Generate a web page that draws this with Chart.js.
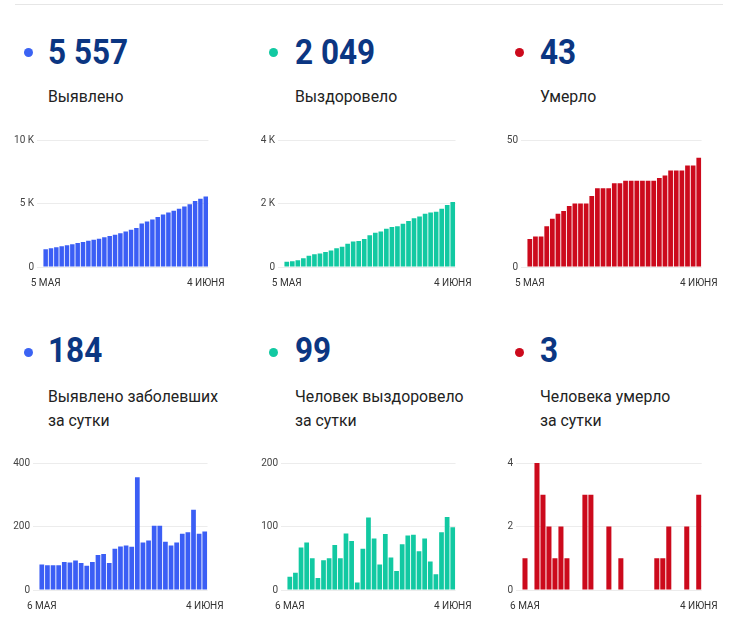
<!DOCTYPE html>
<html>
<head>
<meta charset="utf-8">
<script src="https://cdn.jsdelivr.net/npm/chart.js@4.4.1/dist/chart.umd.min.js"></script>
<style>
    body { margin: 0; background: #fff; font-family: Roboto, sans-serif; }
    #page { position: relative; width: 750px; height: 623px; overflow: hidden; }
    .topline { position: absolute; left: 15px; top: 4px; width: 708px; height: 1px; background: #e6e6e6; }
    .dot { position: absolute; width: 9px; height: 9px; border-radius: 50%; }
    .num { position: absolute; font-size: 35px; line-height: 35px; font-weight: 700; color: #0b3682;
           transform: scaleX(0.9); transform-origin: left top; white-space: nowrap; }
    .lbl { position: absolute; font-size: 17px; line-height: 24px; color: #222;
           transform: scaleX(0.93); transform-origin: left top; white-space: nowrap; }
    canvas { position: absolute; }
</style>
</head>
<body>
<div id="page">
    <div class="topline"></div>

    <div class="dot" style="left:24px;top:48px;background:#3b63f3"></div>
    <div class="num" style="left:48px;top:35px">5 557</div>
    <div class="lbl" style="left:48px;top:84px">Выявлено</div>

    <div class="dot" style="left:269px;top:48px;background:#12c9a2"></div>
    <div class="num" style="left:295px;top:35px">2 049</div>
    <div class="lbl" style="left:295px;top:84px">Выздоровело</div>

    <div class="dot" style="left:515px;top:48px;background:#cc0a1c"></div>
    <div class="num" style="left:540px;top:35px">43</div>
    <div class="lbl" style="left:540px;top:84px">Умерло</div>

    <div class="dot" style="left:24px;top:348px;background:#3b63f3"></div>
    <div class="num" style="left:48px;top:333px">184</div>
    <div class="lbl" style="left:48px;top:384px">Выявлено заболевших<br>за сутки</div>

    <div class="dot" style="left:269px;top:348px;background:#12c9a2"></div>
    <div class="num" style="left:295px;top:333px">99</div>
    <div class="lbl" style="left:295px;top:384px">Человек выздоровело<br>за сутки</div>

    <div class="dot" style="left:515px;top:348px;background:#cc0a1c"></div>
    <div class="num" style="left:540px;top:333px">3</div>
    <div class="lbl" style="left:540px;top:384px">Человека умерло<br>за сутки</div>

    <canvas id="totalCases"></canvas>
    <canvas id="totalRecovered"></canvas>
    <canvas id="totalDeaths"></canvas>
    <canvas id="dailyCases"></canvas>
    <canvas id="dailyRecovered"></canvas>
    <canvas id="dailyDeaths"></canvas>
</div>

<script>
// dates, 5 May .. 4 June
var days = ['5 МАЯ', '6 МАЯ', '7 МАЯ', '8 МАЯ', '9 МАЯ', '10 МАЯ', '11 МАЯ', '12 МАЯ', '13 МАЯ', '14 МАЯ',
    '15 МАЯ', '16 МАЯ', '17 МАЯ', '18 МАЯ', '19 МАЯ', '20 МАЯ', '21 МАЯ', '22 МАЯ', '23 МАЯ', '24 МАЯ',
    '25 МАЯ', '26 МАЯ', '27 МАЯ', '28 МАЯ', '29 МАЯ', '30 МАЯ', '31 МАЯ', '1 ИЮНЯ', '2 ИЮНЯ', '3 ИЮНЯ', '4 ИЮНЯ'];
var dailyDays = days.slice(1);

// cumulative totals
var totalCases = [1395, 1475, 1553, 1631, 1709, 1797, 1884, 1977, 2062, 2138, 2226, 2336, 2449, 2534, 2664, 2801,
    2941, 3077, 3432, 3582, 3738, 3940, 4142, 4294, 4434, 4584, 4761, 4943, 5196, 5373, 5557];
var totalRecovered = [163, 184, 211, 278, 353, 403, 422, 469, 519, 590, 640, 729, 806, 818, 883, 997,
    1078, 1118, 1206, 1257, 1287, 1359, 1445, 1532, 1593, 1674, 1719, 1744, 1835, 1950, 2049];
var totalDeaths = [11, 12, 12, 16, 19, 21, 22, 24, 25, 25, 25, 28, 31, 31, 31, 33,
    33, 34, 34, 34, 34, 34, 34, 35, 36, 38, 38, 38, 40, 40, 43];

// per day
var dailyCases = [80, 78, 78, 78, 88, 87, 93, 85, 76, 88, 110, 113, 85, 130, 137,
    140, 136, 355, 150, 156, 202, 202, 152, 140, 150, 177, 182, 253, 177, 184];
var dailyRecovered = [21, 27, 67, 75, 50, 19, 47, 50, 71, 50, 89, 77, 12, 65, 114,
    81, 40, 88, 51, 30, 72, 86, 87, 61, 81, 45, 25, 91, 115, 99];
var dailyDeaths = [1, 0, 4, 3, 2, 1, 2, 1, 0, 0, 3, 3, 0, 0, 2,
    0, 1, 0, 0, 0, 0, 0, 1, 1, 2, 0, 0, 2, 0, 3];

var BLUE = '#3b5ef5', GREEN = '#12c9a2', RED = '#cc0a1c';

// area = chart area in page px: left, top, right, bottom
function barChart(id, labels, values, color, max, step, area) {
    var yW = 40, padTop = 10, xH = 28, padRight = 25;
    var cv = document.getElementById(id);
    cv.width = yW + (area[2] - area[0]) + padRight;
    cv.height = padTop + (area[3] - area[1]) + xH;
    cv.style.left = (area[0] - yW) + 'px';
    cv.style.top = (area[1] - padTop) + 'px';

    var last = labels.length - 1;
    new Chart(cv.getContext('2d'), {
        type: 'bar',
        data: {
            labels: labels,
            datasets: [{
                data: values,
                backgroundColor: color,
                barPercentage: 0.84,
                categoryPercentage: 1
            }]
        },
        options: {
            responsive: false,
            animation: false,
            layout: { padding: { top: padTop, right: padRight, left: 0, bottom: 0 } },
            plugins: { legend: { display: false }, tooltip: { enabled: false } },
            scales: {
                x: {
                    grid: { display: false, drawTicks: false },
                    border: { display: false },
                    afterFit: function (s) { s.height = xH; },
                    ticks: {
                        autoSkip: false,
                        maxRotation: 0,
                        padding: 10,
                        color: '#333',
                        font: { family: 'Roboto', size: 10 },
                        callback: function (v, i) { return (i === 0 || i === last) ? labels[i] : ''; }
                    }
                },
                y: {
                    min: 0,
                    max: max,
                    grid: { color: '#ececec', tickLength: 6 },
                    border: { display: false },
                    afterFit: function (s) { s.width = yW; },
                    ticks: {
                        stepSize: step,
                        padding: 3,
                        color: '#444',
                        font: { family: 'Roboto', size: 10 },
                        callback: function (v) { return v >= 1000 ? (v / 1000) + ' K' : v; }
                    }
                }
            }
        }
    });
}

barChart('totalCases', days, totalCases, BLUE, 10000, 5000, [43, 140, 210, 267]);
barChart('totalRecovered', days, totalRecovered, GREEN, 4000, 2000, [284, 140, 457, 267]);
barChart('totalDeaths', days, totalDeaths, RED, 50, 50, [527, 140, 703, 267]);
barChart('dailyCases', dailyDays, dailyCases, BLUE, 400, 200, [39, 463, 209, 590]);
barChart('dailyRecovered', dailyDays, dailyRecovered, GREEN, 200, 100, [287, 463, 457, 590]);
barChart('dailyDeaths', dailyDays, dailyDeaths, RED, 4, 2, [522, 463, 703, 590]);
</script>
</body>
</html>
